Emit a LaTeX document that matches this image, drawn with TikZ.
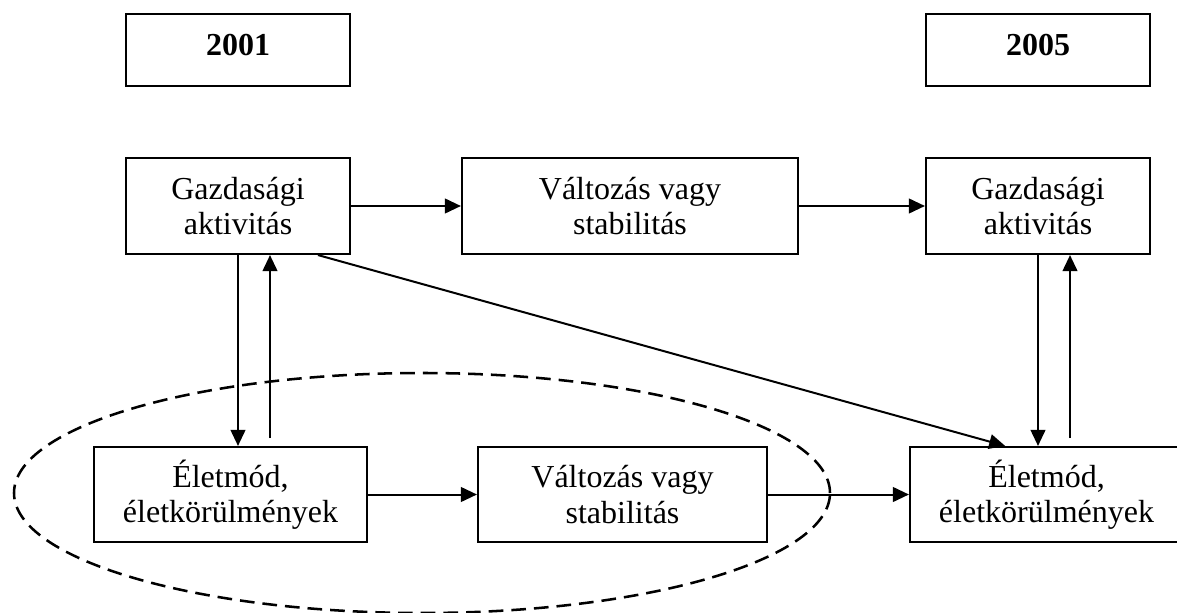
\documentclass[tikz,border=0pt]{standalone}
\usepackage{fontspec}
\setmainfont{Liberation Serif}
\usetikzlibrary{arrows.meta}
\begin{document}
\begin{tikzpicture}[x=0.75pt,y=-0.75pt,
  box/.style={draw, line width=1.6pt, inner sep=0pt, align=center,
              font=\fontsize{24}{26.5}\selectfont},
  yearbox/.style={box, minimum width=168pt, minimum height=54pt,
              font=\fontsize{24}{26.5}\selectfont\bfseries, text depth=7.5pt},
  conn/.style={line width=1.5pt, -{Triangle[length=12pt,width=11pt]}},
  group/.style={dash pattern=on 11pt off 6pt, line width=1.9pt}]
\useasboundingbox (0,0) rectangle (1177,613);
\clip (0,0) rectangle (1177,613);

% dashed ellipse
\draw[group] (422,493) ellipse [x radius=306pt, y radius=90pt];

% year boxes
\node[yearbox] (y1) at (238,50) {2001};
\node[yearbox] (y2) at (1038,50) {2005};

% top row
\node[box, minimum width=168pt, minimum height=72pt] (gaL) at (238,206) {Gazdasági\\aktivitás};
\node[box, minimum width=252pt, minimum height=72pt] (valT) at (630,206) {Változás vagy\\stabilitás};
\node[box, minimum width=168pt, minimum height=72pt] (gaR) at (1038,206) {Gazdasági\\aktivitás};

% bottom row
\node[box, minimum width=204.75pt, minimum height=71.25pt] (elL) at (230.5,494.5) {Életmód,\\életkörülmények};
\node[box, minimum width=216.75pt, minimum height=71.25pt] (valB) at (622.5,494.5) {Változás vagy\\stabilitás};
\node[box, minimum width=204.75pt, minimum height=71.25pt] (elR) at (1046.5,494.5) {Életmód,\\életkörülmények};

% horizontal arrows
\draw[conn] (gaL.east) -- (valT.west);
\draw[conn] (valT.east) -- (gaR.west);
\draw[conn] (elL.east) -- (valB.west);
\draw[conn] (valB.east) -- (elR.west);

% vertical arrows left
\draw[conn] (gaL.south) -- (gaL.south |- elL.north);
\coordinate (uL) at (270,438);
\draw[conn] (uL) -- (uL |- gaL.south);

% vertical arrows right
\draw[conn] (gaR.south) -- (gaR.south |- elR.north);
\coordinate (uR) at (1070,438);
\draw[conn] (uR) -- (uR |- gaR.south);

% diagonal arrow
\draw[conn] ([xshift=60pt]gaL.south) -- ([xshift=-31pt]elR.north);
\end{tikzpicture}
\end{document}
